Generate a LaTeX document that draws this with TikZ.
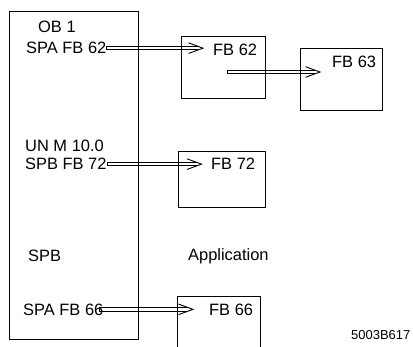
\documentclass[tikz,border=0pt]{standalone}
\usepackage{fontspec}
\setmainfont{Liberation Sans}
\usetikzlibrary{positioning}
\usetikzlibrary{calc}

\tikzset{
  lbl/.style={anchor=base west, inner sep=0pt, font=\fontsize{16.5}{19}\selectfont},
  fbbox/.style={draw, line width=0.8bp, inner sep=0pt},
  barb/.style={line width=0.9bp, line join=miter}
}

% double arrow with open head: start, tip
\newcommand{\dblarrow}[2]{%
  \coordinate (da) at (#1);
  \coordinate (db) at (#2);
  \draw[barb] ([yshift=1.8bp]da) -- ([xshift=-4.9bp,yshift=1.8bp]db);
  \draw[barb] ([yshift=-1.8bp]da) -- ([xshift=-4.9bp,yshift=-1.8bp]db);
  \draw[barb] ([yshift=1.8bp]da) -- ([yshift=-1.8bp]da);
  \draw[barb] ([xshift=-14.5bp,yshift=5.3bp]db) -- (db) -- ([xshift=-14.5bp,yshift=-5.3bp]db);
}

\begin{document}
\begin{tikzpicture}[x=1bp,y=-1bp]

\clip (0,0) rectangle (413,347);

%---------------------------------------
% Blocks
%---------------------------------------
\node[fbbox, line width=1bp, minimum width=128bp, minimum height=328bp] (ob) at (74,175) {};
\node[fbbox, minimum width=84bp, minimum height=62bp] (fb62) at (223,67) {};
\node[fbbox, minimum width=82bp, minimum height=62bp] (fb63) at (341,79) {};
\node[fbbox, minimum width=87bp, minimum height=56bp] (fb72) at (221.5,179) {};
\node[fbbox, minimum width=83bp, minimum height=70bp] (fb66) at (218.5,331) {};

%---------------------------------------
% Texts
%---------------------------------------
\node[lbl] (ob1)   at (38,32)   {OB 1};
\node[lbl] (spa62) at (26,53)   {SPA FB 62};
\node[lbl] (fb62t) at (213,55)  {FB 62};
\node[lbl] (fb63t) at (332,67)  {FB 63};
\node[lbl] (unm)   at (25,151)  {UN M 10.0};
\node[lbl] (spb72) at (25,169)  {SPB FB 72};
\node[lbl] (fb72t) at (211,169) {FB 72};
\node[lbl] (spb)   at (28,261)  {SPB};
\node[lbl] (appl)  at (188,260) {Application};
\node[lbl] (spa66) at (23,315)  {SPA FB 66};
\node[lbl] (fb66t) at (209,315) {FB 66};
\node[lbl, font=\fontsize{13}{15}\selectfont] (docid) at (351,339) {5003B617};

%---------------------------------------
% Calls
%---------------------------------------
\coordinate (s63) at (227,72);

\dblarrow{[yshift=-0.8bp]spa62.east}{$(spa62.east -| fb62t.west)+(-10,0.8)$}
\dblarrow{s63}{$(s63 -| fb63t.west)+(-12,0)$}
\dblarrow{[xshift=1bp,yshift=-0.8bp]spb72.east}{$(spb72.east -| fb72t.west)+(-9.5,0.8)$}
\dblarrow{[xshift=-4bp]spa66.east}{$(spa66.east -| fb66t.west)+(-16,0)$}

\end{tikzpicture}
\end{document}
